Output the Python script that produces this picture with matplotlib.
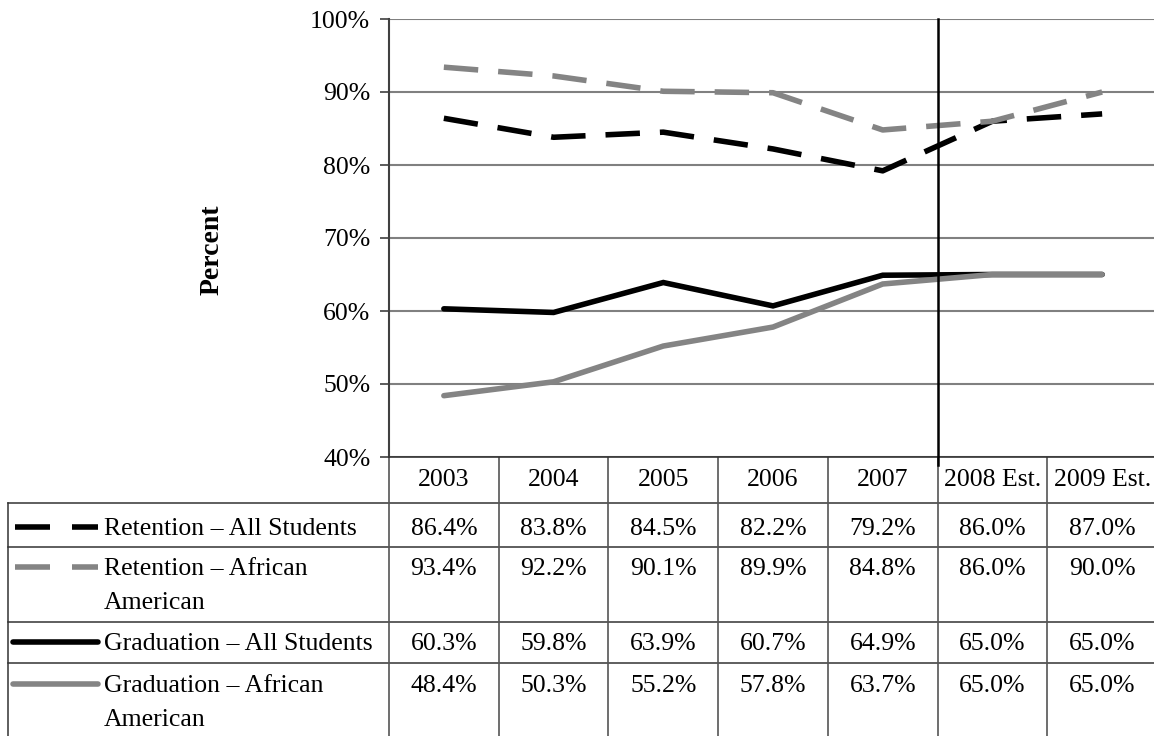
import numpy as np
import matplotlib.pyplot as plt
from matplotlib.ticker import FuncFormatter

plt.rcParams['font.family'] = ['Liberation Serif', 'DejaVu Serif']

years = ['2003', '2004', '2005', '2006', '2007', '2008 Est.', '2009 Est.']
retention_all = [86.4, 83.8, 84.5, 82.2, 79.2, 86.0, 87.0]
retention_aa = [93.4, 92.2, 90.1, 89.9, 84.8, 86.0, 90.0]
graduation_all = [60.3, 59.8, 63.9, 60.7, 64.9, 65.0, 65.0]
graduation_aa = [48.4, 50.3, 55.2, 57.8, 63.7, 65.0, 65.0]
series_names = ['Retention – All Students',
                'Retention – African\nAmerican',
                'Graduation – All Students',
                'Graduation – African\nAmerican']
y_ticks = [40, 50, 60, 70, 80, 90, 100]

W, H = 1154, 736
FS = 18.5
GRAY = '#848484'
LINE = '#333333'

# layout in pixels (from top-left)
plot_l, plot_r, plot_t, plot_b = 389, 1157, 19, 457
col_w = (plot_r - plot_l) / len(years)
row_lines = [503, 547, 622, 663]
row_text_y = [529, 569, 644, 686]
legend_x0, legend_x1, text_x = 15, 98, 104
line_gap = 34

fig = plt.figure(figsize=(W / 100, H / 100), dpi=100)

ax = fig.add_axes([plot_l / W, 1 - plot_b / H,
                   (plot_r - plot_l) / W, (plot_b - plot_t) / H])

x = np.arange(len(years)) + 0.5
series = [retention_all, retention_aa, graduation_all, graduation_aa]
colors = ['black', GRAY, 'black', GRAY]
dashed = [True, True, False, False]
dash = (6.2, 3.6)

for vals, c, d in zip(series, colors, dashed):
    if d:
        ax.plot(x, vals, color=c, lw=4, dashes=dash, dash_capstyle='butt',
                solid_joinstyle='miter', zorder=3)
    else:
        ax.plot(x, vals, color=c, lw=4, solid_capstyle='round',
                solid_joinstyle='miter', zorder=3)

ax.set_xlim(0, len(years))
ax.set_ylim(40, 100)
ax.set_yticks(y_ticks)
ax.yaxis.set_major_formatter(FuncFormatter(lambda v, p: f'{v:.0f}%'))
ax.set_xticks([])
ax.grid(axis='y', color='#808080', lw=1.5, zorder=1)
ax.tick_params(axis='y', direction='out', length=6.5, width=1.2,
               color='#404040', pad=7, labelsize=FS)
for s in ['top', 'right']:
    ax.spines[s].set_visible(False)
ax.spines['left'].set_color('#404040')
ax.spines['left'].set_linewidth(1.5)
ax.spines['bottom'].set_color(LINE)
ax.spines['bottom'].set_linewidth(1.2)

# actual / estimate divider
ax.axvline(5, ymin=-0.018, ymax=1, color='black', lw=1.8, clip_on=False,
           zorder=4)

# data table underneath, drawn in pixel space
tab = fig.add_axes([0, 0, 1, 1], zorder=-1)
tab.set_xlim(0, W)
tab.set_ylim(H, 0)
tab.axis('off')

for y in row_lines:
    tab.plot([8, W], [y, y], color=LINE, lw=1.1)
tab.plot([8, 8], [row_lines[0], H], color=LINE, lw=1.1)
for k in range(len(years) + 1):
    xb = plot_l + k * col_w
    tab.plot([xb, xb], [plot_b, H], color='#555555', lw=1.2)

centers = [plot_l + (i + 0.5) * col_w for i in range(len(years))]
for cx, yr in zip(centers, years):
    tab.text(cx, 480, yr, ha='center', va='center', fontsize=FS)

for r, (name, vals, c, d) in enumerate(zip(series_names, series, colors,
                                           dashed)):
    ty = row_text_y[r]
    ly = ty - 2
    if d:
        tab.plot([legend_x0, 50], [ly, ly], color=c, lw=4,
                 solid_capstyle='butt')
        tab.plot([72, legend_x1], [ly, ly], color=c, lw=4,
                 solid_capstyle='butt')
    else:
        tab.plot([legend_x0 - 2, legend_x1], [ly, ly], color=c, lw=4,
                 solid_capstyle='round')
    for k, part in enumerate(name.split('\n')):
        tab.text(text_x, ty + k * line_gap, part, ha='left', va='center',
                 fontsize=FS)
    for cx, v in zip(centers, vals):
        tab.text(cx, ty, f'{v:.1f}%', ha='center', va='center', fontsize=FS)

tab.text(212, 250, 'Percent', rotation=90, ha='center', va='center',
         fontsize=20, fontweight='bold')

fig.savefig('out.png', dpi=100)
